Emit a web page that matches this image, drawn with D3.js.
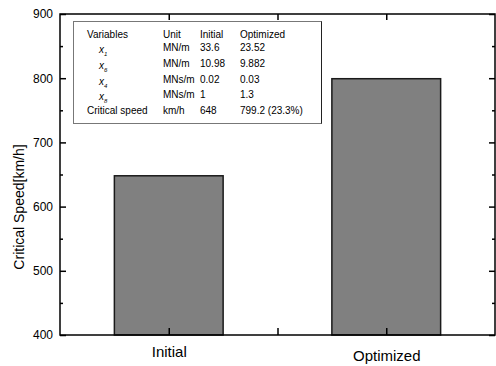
<!DOCTYPE html>
<html>
<head>
<meta charset="utf-8">
<script src="https://cdn.jsdelivr.net/npm/d3@7"></script>
<style>
  body { margin: 0; background: #fff; }
  svg { font-family: "Liberation Sans", Arial, sans-serif; }
</style>
</head>
<body>
<svg id="chart" width="496" height="366"></svg>
<script>
// bars
var categories = ["Initial", "Optimized"];
var speeds = [648, 799.2];
var yTicks = [400, 500, 600, 700, 800, 900];

// table in the upper-left box
var headers = ["Variables", "Unit", "Initial", "Optimized"];
var varNames = ["x", "x", "x", "x", "Critical speed"];
var varSubs = ["1", "6", "4", "8", ""];
var units = ["MN/m", "MN/m", "MNs/m", "MNs/m", "km/h"];
var initialVals = ["33.6", "10.98", "0.02", "1", "648"];
var optimizedVals = ["23.52", "9.882", "0.03", "1.3", "799.2 (23.3%)"];

var svg = d3.select("#chart");
var plotL = 60, plotR = 495, plotT = 14, plotB = 335;

var x = d3.scaleLinear().domain([0.5, 2.5]).range([plotL, plotR]);
var y = d3.scaleLinear().domain([400, 900]).range([plotB, plotT]);

// bars
svg.append("g").selectAll("rect")
  .data(speeds)
  .enter().append("rect")
    .attr("x", function(d, i) { return x(i + 1 - 0.25); })
    .attr("width", x(1.25) - x(0.75))
    .attr("y", function(d) { return y(d); })
    .attr("height", function(d) { return y(400) - y(d); })
    .attr("fill", "#808080")
    .attr("stroke", "#1a1a1a")
    .attr("stroke-width", 1.5);

// axes, ticks pointing inward
var minor = d3.range(450, 900, 100);
function styleAxis(g) {
  g.select(".domain").remove();
  g.selectAll("line").attr("stroke", "#000").attr("stroke-width", 1.5);
}

svg.append("g")
  .attr("transform", "translate(" + plotL + ",0)")
  .call(d3.axisLeft(y).tickValues(yTicks).tickSize(-6).tickPadding(7))
  .call(styleAxis)
  .selectAll("text").attr("font-size", 12).attr("fill", "#000");
svg.append("g")
  .attr("transform", "translate(" + plotL + ",0)")
  .call(d3.axisLeft(y).tickValues(minor).tickSize(-3).tickFormat(""))
  .call(styleAxis);
svg.append("g")
  .attr("transform", "translate(" + plotR + ",0)")
  .call(d3.axisRight(y).tickValues(yTicks).tickSize(-6).tickFormat(""))
  .call(styleAxis);
svg.append("g")
  .attr("transform", "translate(" + plotR + ",0)")
  .call(d3.axisRight(y).tickValues(minor).tickSize(-3).tickFormat(""))
  .call(styleAxis);

var xb = svg.append("g")
  .attr("transform", "translate(0," + plotB + ")")
  .call(d3.axisBottom(x).tickValues([1, 1.5, 2]).tickSize(-7).tickPadding(11)
    .tickFormat(function(d) { return d % 1 === 0 ? categories[d - 1] : ""; }))
  .call(styleAxis);
xb.selectAll("text").attr("font-size", 15).attr("fill", "#000")
  .attr("y", function(d) { return d === 2 ? 15 : 11; });

svg.append("g")
  .attr("transform", "translate(0," + plotT + ")")
  .call(d3.axisTop(x).tickValues([1, 1.5, 2]).tickSize(-6).tickFormat(""))
  .call(styleAxis);

// frame
svg.append("rect")
  .attr("x", plotL).attr("y", plotT)
  .attr("width", plotR - plotL).attr("height", plotB - plotT)
  .attr("fill", "none").attr("stroke", "#000").attr("stroke-width", 1.5);

svg.append("text")
  .attr("transform", "translate(24," + 207 + ") rotate(-90)")
  .attr("text-anchor", "middle")
  .attr("font-size", 14)
  .text("Critical Speed[km/h]");

// table box
var box = svg.append("g");
box.append("rect")
  .attr("x", 73.5).attr("y", 21.5).attr("width", 248).attr("height", 102)
  .attr("fill", "#fff").attr("stroke", "#777").attr("stroke-width", 1);
box.append("line")
  .attr("x1", 321.5).attr("x2", 321.5).attr("y1", 21.5).attr("y2", 123.5)
  .attr("stroke", "#222");

var colX = [87, 163, 200, 240];
box.selectAll("text.hdr")
  .data(headers)
  .enter().append("text")
    .attr("class", "hdr")
    .attr("x", function(d, i) { return colX[i]; })
    .attr("y", 38)
    .attr("font-size", 10)
    .text(function(d) { return d; });

var rowY = d3.scaleLinear().domain([0, 4]).range([51, 114]);
var rows = box.selectAll("g.row")
  .data(varNames)
  .enter().append("g")
    .attr("class", "row")
    .attr("transform", function(d, i) { return "translate(0," + rowY(i) + ")"; })
    .attr("font-size", 10);

rows.append("text")
  .attr("x", function(d, i) { return varSubs[i] ? 99 : colX[0]; })
  .attr("dy", function(d, i) { return varSubs[i] ? 2 : 0; })
  .each(function(d, i) {
    var t = d3.select(this);
    if (varSubs[i]) {
      t.append("tspan").attr("font-style", "italic").text(d);
      t.append("tspan").attr("font-style", "italic").attr("font-size", 6)
        .attr("dy", 3).text(varSubs[i]);
    } else {
      t.text(d);
    }
  });
rows.append("text").attr("x", colX[1]).text(function(d, i) { return units[i]; });
rows.append("text").attr("x", colX[2]).text(function(d, i) { return initialVals[i]; });
rows.append("text").attr("x", colX[3]).text(function(d, i) { return optimizedVals[i]; });
</script>
</body>
</html>
